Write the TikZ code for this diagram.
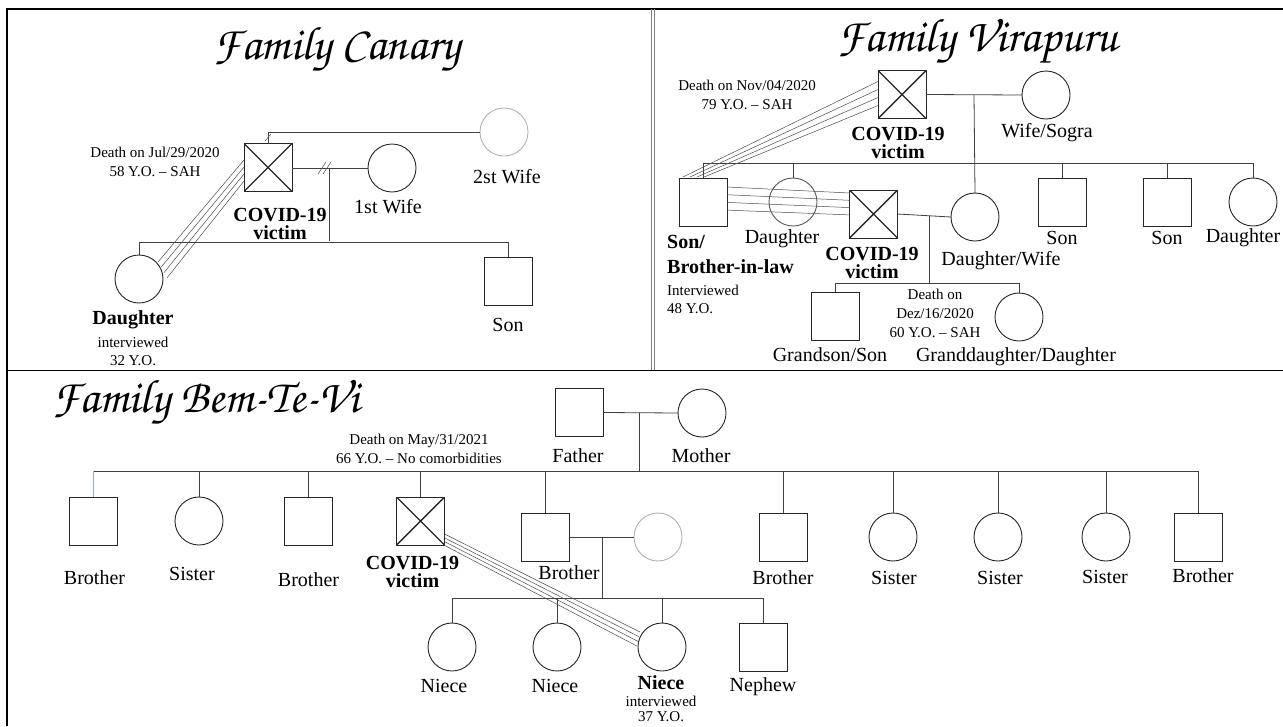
\documentclass[tikz,border=0pt]{standalone}
\usepackage[T1]{fontenc}
\usepackage{fontspec}
\setmainfont{Liberation Serif}
\usetikzlibrary{positioning,calc}

\definecolor{dropblue}{RGB}{143,170,220}
\newcommand{\famfont}{\fontencoding{T1}\fontfamily{pzc}\fontseries{m}\fontshape{it}\fontsize{47}{47}\selectfont}

\tikzset{
    person/.style={draw=black!85, line width=0.9pt, minimum size=48pt, inner sep=0pt, outer sep=0pt},
    male/.style={person, rectangle},
    female/.style={person, circle},
    faded/.style={draw=black!30},
    victim/.style={male, path picture={
        \draw[line width=1.4pt] (path picture bounding box.north west) -- (path picture bounding box.south east)
            (path picture bounding box.north east) -- (path picture bounding box.south west);}},
    kin/.style={draw=black!75, line width=0.8pt},
    tie/.style={draw=black!70, line width=0.5pt},
    famname/.style={font=\famfont, inner sep=0pt},
    lbl/.style={font=\fontsize{20}{20}\selectfont, inner sep=0pt},
    boldlbl/.style={font=\bfseries\fontsize{20}{18}\selectfont, inner sep=0pt, align=center},
    note/.style={font=\fontsize{15}{19}\selectfont, inner sep=0pt, align=center},
}

\begin{document}
\begin{tikzpicture}[x=1pt, y=-1pt]
    \useasboundingbox (0,0) rectangle (1283,726);
    \fill[white] (0,0) rectangle (1283,726);
    % frames
    \draw[line width=1.3pt] (7,726) -- (7,9) -- (1283,9);
    \draw[line width=1.3pt] (7,370.5) -- (1283,370.5);
    \draw[black!50, line width=1pt] (651,9) -- (651,370) (654.5,9) -- (654.5,370);

    % Family Canary
    \node[famname] at (337,50) {Family Canary};
    \node[victim] (cF) at (268,167.5) {};
    \node[female] (cW1) at (392,168) {};
    \node[female, faded] (cW2) at (504,132) {};
    \node[female] (cD) at (139,279) {};
    \node[male] (cS) at (508,281) {};
    \draw[kin] (cF.north) |- (cW2.west);
    \draw[tie] (265,141) -- (271,134);
    \draw[kin] (cF.east |- cW1.west) -- (cW1.west);
    \draw[tie] (318,174) -- (326,162) (323,174) -- (331,162);
    \coordinate (cM) at (329,168);
    \coordinate (cSib) at (329,241);
    \draw[kin] (cM) -- (cSib);
    \draw[kin] (cD.north) -- ++(0,-13) -| (cS.north);
    \foreach \i in {0,...,3}
        \draw[tie] ($(cD.center)+(19+3*\i,-17+5.3*\i)$) -- ($(cF.west)+(0,-7.5+7*\i)$);
    \node[note] at (155,162) {Death on Jul/29/2020\\58 Y.O. -- SAH};
    \node[boldlbl] at (280,224) {COVID-19\\victim};
    \node[lbl] at (388,207) {1st Wife};
    \node[lbl] at (507,177) {2st Wife};
    \node[lbl] at (508,325) {Son};
    \node[boldlbl] at (133,320) {Daughter};
    \node[note, font=\fontsize{15}{18}\selectfont] at (133,351) {interviewed\\32 Y.O.};

    % Family Virapuru
    \node[famname] at (978,42) {Family Virapuru};
    \node[victim] (vF) at (902,94.5) {};
    \node[female] (vW) at (1046,95) {};
    \node[male] (vS) at (703,202) {};
    \node[female, draw=black!65] (vD1) at (793,202) {};
    \node[victim] (vH) at (873.5,214) {};
    \node[female] (vDW) at (975,217) {};
    \node[male] (vS2) at (1062,202) {};
    \node[male] (vS3) at (1167,202) {};
    \node[female] (vD2) at (1253,202) {};
    \node[male] (vGS) at (835,316) {};
    \node[female] (vGD) at (1019,317) {};
    \draw[kin] (vF.east) -- (vW.west);
    \coordinate (vM) at (974,95);
    \draw[kin] (vM) -- (vDW.north);
    \coordinate (vSib) at (703,163);
    \draw[kin] (vS.north) -- (vSib) -| (vD2.north);
    \foreach \n in {vD1,vS2,vS3}
        \draw[kin] (\n.north) -- (\n.north |- vSib);
    \draw[kin] (vH.east) -- (vDW.west);
    \coordinate (vM2) at (929,215.5);
    \draw[kin] (vM2) -- (929,283);
    \draw[kin] (vGS.north) -- ++(0,-9) -| (vGD.north);
    \foreach \i in {0,...,3} {
        \draw[tie] ($(vS.north west)+(4+7*\i,-1)$) -- ($(vF.west)+(0,-13+8*\i)$);
        \draw[tie] ($(vS.east)+(0,-15+7.7*\i)$) -- ($(vH.west)+(0,-21+7.3*\i)$);
    }
    \node[note] at (747,94.5) {Death on Nov/04/2020\\79 Y.O. -- SAH};
    \node[boldlbl] at (898,142.5) {COVID-19\\victim};
    \node[lbl] at (1047,133) {Wife/Sogra};
    \node[boldlbl, align=left, anchor=west, font=\bfseries\fontsize{20}{25}\selectfont] at (667,254.5) {Son/\\Brother-in-law};
    \node[note, align=left, anchor=west, font=\fontsize{15}{18}\selectfont] at (667,299) {Interviewed\\48 Y.O.};
    \node[lbl] at (782,239) {Daughter};
    \node[boldlbl] at (872,263) {COVID-19\\victim};
    \node[lbl] at (1001,261) {Daughter/Wife};
    \node[note] at (935,313.5) {Death on\\Dez/16/2020\\60 Y.O. -- SAH};
    \node[lbl] at (830,355) {Grandson/Son};
    \node[lbl] at (1016,357) {Granddaughter/Daughter};
    \node[lbl] at (1062,238) {Son};
    \node[lbl] at (1167,238) {Son};
    \node[lbl] at (1243,238) {Daughter};

    % Family Bem-Te-Vi
    \node[famname] at (206,403) {Family Bem-Te-Vi};
    \node[male] (bFa) at (579,412.5) {};
    \node[female] (bMo) at (702,413) {};
    \draw[kin] (bFa.east) -- (bMo.west);
    \coordinate (bM) at (639,413);
    \coordinate (bSib) at (639,471);
    \draw[kin] (bM) -- (bSib);
    \node[male] (b1) at (93.5,521) {};
    \node[female] (b2) at (199,521) {};
    \node[male] (b3) at (308,521) {};
    \node[victim] (b4) at (420.5,521) {};
    \node[male] (b5) at (545,537) {};
    \node[female, faded] (b5W) at (658,537) {};
    \node[male] (b6) at (783,537) {};
    \node[female] (b7) at (893,537) {};
    \node[female] (b8) at (998,537) {};
    \node[female] (b9) at (1106,537) {};
    \node[male] (b10) at (1198,537) {};
    \draw[kin] (b1.north |- bSib) -- (b10.north |- bSib);
    \draw[kin, draw=dropblue] (b1.north) -- (b1.north |- bSib);
    \foreach \n in {b2,b3,b4,b5,b6,b7,b8,b9,b10}
        \draw[kin] (\n.north) -- (\n.north |- bSib);
    \draw[kin] (b5.east) -- (b5W.west);
    \coordinate (b5M) at (602,537);
    \coordinate (b5Sib) at (602,598);
    \draw[kin] (b5M) -- (b5Sib);
    \node[female] (n1) at (452,647) {};
    \node[female] (n2) at (557,647) {};
    \node[female] (n3) at (662,647) {};
    \node[male] (n4) at (763.5,647) {};
    \draw[kin] (n1.north) -- ++(0,-25) -| (n4.north);
    \foreach \n in {n2,n3}
        \draw[kin] (\n.north) -- (\n.north |- b5Sib);
    \foreach \i in {0,...,3}
        \draw[tie] ($(b4.east)+(0,13+3.8*\i)$) -- ($(n3.center)+(-22-\i,-15+4.7*\i)$);
    \node[note] at (419,449) {Death on May/31/2021\\66 Y.O. -- No comorbidities};
    \node[lbl] at (578,456) {Father};
    \node[lbl] at (701,456) {Mother};
    \node[lbl] at (94.5,578) {Brother};
    \node[lbl] at (192,574) {Sister};
    \node[lbl] at (308.5,580) {Brother};
    \node[boldlbl] at (412.5,572) {COVID-19\\victim};
    \node[lbl] at (569,573) {Brother};
    \node[lbl] at (783,578) {Brother};
    \node[lbl] at (894,578) {Sister};
    \node[lbl] at (1000,578) {Sister};
    \node[lbl] at (1105,577) {Sister};
    \node[lbl] at (1203,576) {Brother};
    \node[lbl] at (444,686) {Niece};
    \node[lbl] at (555,686) {Niece};
    \node[boldlbl] at (661,683) {Niece};
    \node[note, font=\fontsize{15}{15}\selectfont] at (661,709) {interviewed\\37 Y.O.};
    \node[lbl] at (763,687) {Nephew};
\end{tikzpicture}
\end{document}
